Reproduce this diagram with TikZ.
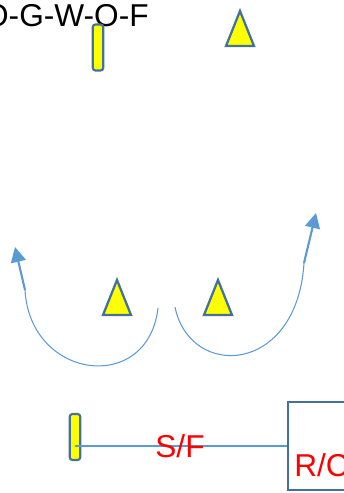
\documentclass[tikz,border=0pt]{standalone}
\usepackage{fontspec}
\setmainfont{Liberation Sans}
\usetikzlibrary{arrows.meta}
\definecolor{barfill}{RGB}{255,255,0}
\definecolor{edgeblue}{RGB}{65,113,156}
\definecolor{arcblue}{RGB}{91,155,213}
\definecolor{labelred}{RGB}{255,0,0}

\begin{document}
\begin{tikzpicture}[
    x=0.02cm, y=-0.02cm,
    font=\fontsize{18}{21}\selectfont,
    bar/.style={draw=edgeblue, line width=1.2pt, fill=barfill, rounded corners=1.5pt,
        minimum width=0.21cm, minimum height=0.92cm, inner sep=0pt},
    box/.style={draw=edgeblue, line width=1.2pt, minimum width=2.24cm,
        minimum height=1.76cm, inner sep=0pt},
    redlabel/.style={text=labelred, inner sep=0pt},
    link/.style={draw=arcblue, line width=0.6pt},
    swing/.style={draw=arcblue, line width=0.6pt},
    shaft/.style={draw=arcblue, line width=1.2pt,
        -{Triangle[length=0.3cm, width=0.3cm]}},
    tri/.pic={\draw[edgeblue, line width=1.3pt, fill=barfill]
        (-14,0) -- (0,-35) -- (14,0) -- cycle;}
]
\useasboundingbox (0,0) rectangle (344,493);
\clip (0,0) rectangle (344,493);

% top row
\node[anchor=base east, inner sep=0pt] (title) at (149,27) {O-G-W-O-F};
\node[bar] (bartop) at (98,47.5) {};
\pic at (240,46) {tri};

% middle: two triangles with swinging arrows
\pic at (117,315) {tri};
\pic at (218,315) {tri};
\coordinate (lstart) at (158,308);
\coordinate (lbend) at (25,290);
\coordinate (ltip) at (15,247);
\coordinate (rstart) at (175,307);
\coordinate (rbend) at (304,263);
\coordinate (rtip) at (316,213);
\draw[swing] (lstart) .. controls (148,395) and (30,380) .. (lbend);
\draw[shaft] (lbend) -- (ltip);
\draw[swing] (rstart) .. controls (190,380) and (297,375) .. (rbend);
\draw[shaft] (rbend) -- (rtip);

% bottom row
\node[bar] (barbot) at (75,437) {};
\node[box] (rcbox) at (344,446) {};
\node[redlabel, anchor=base west] (rc) at (294,476) {R/C};
\draw[link] (barbot.center |- rcbox.west) -- (rcbox.west);
\node[redlabel, anchor=base] (sf) at (180,457) {S/F};
\end{tikzpicture}
\end{document}
